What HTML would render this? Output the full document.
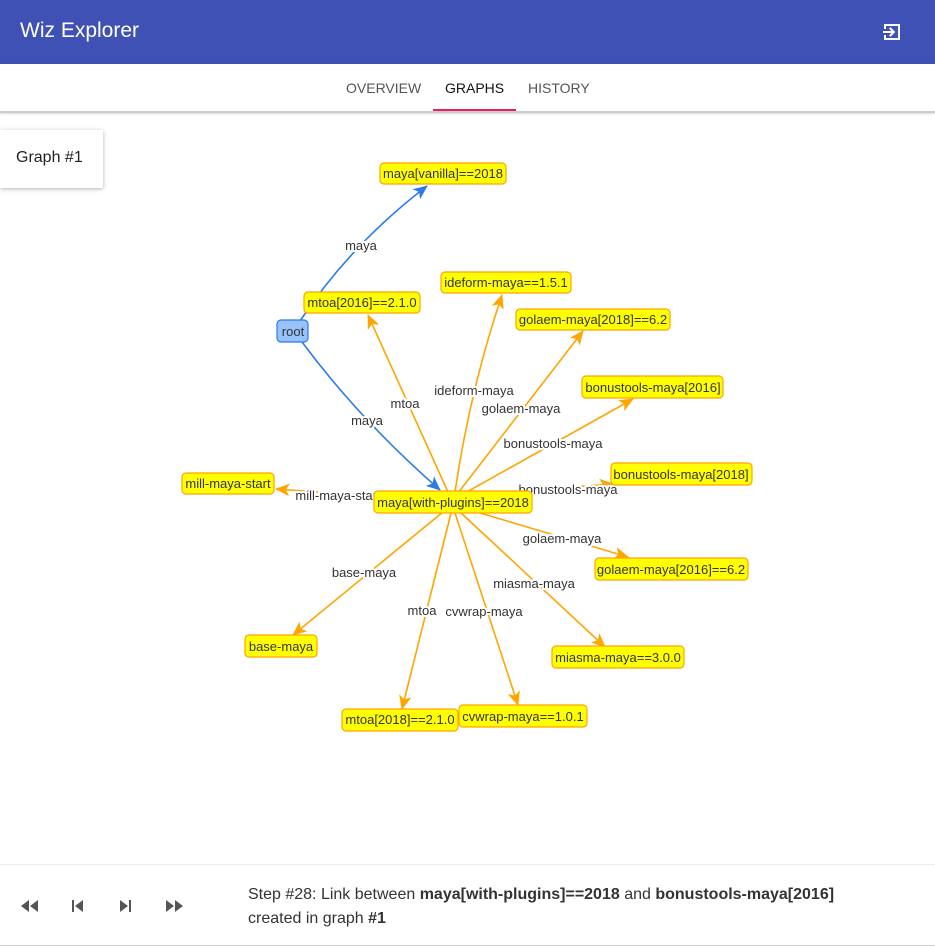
<!DOCTYPE html>
<html><head><meta charset="utf-8"><style>
*{margin:0;padding:0;box-sizing:border-box}
body{width:935px;height:946px;overflow:hidden;background:#fff;font-family:"Liberation Sans",sans-serif;position:relative}
.top{position:absolute;left:0;top:0;width:935px;height:64px;background:#3f51b5;color:#fff}
.top .t{position:absolute;left:20px;top:19px;font-size:21px}
.tabs{position:absolute;top:64px;left:0;width:935px;height:49px;border-bottom:2px solid #ccc;box-shadow:0 1px 2px rgba(0,0,0,.15)}
.tab{position:absolute;top:16px;font-size:14px;color:#555}
.ind{position:absolute;left:433px;top:45px;width:83px;height:2px;background:#e91e63}
.card{position:absolute;left:0;top:130px;width:103px;height:58px;background:#fff;box-shadow:0 1px 4px rgba(0,0,0,.3);font-size:16px;color:#222;padding:19px 0 0 16px}
.foot{position:absolute;top:864px;left:0;width:935px;height:82px;border-top:1px solid #eee;border-bottom:1px solid #ccc}
.msg{position:absolute;left:248px;top:18px;font-size:16px;line-height:24px;color:#333}
svg text{font-family:"Liberation Sans",sans-serif}
.lbl text{paint-order:stroke;stroke:#fff;stroke-width:4px}
</style></head><body>
<div class="top"><div class="t">Wiz Explorer</div>
<svg style="position:absolute;left:880px;top:20px" width="24" height="24" viewBox="0 0 24 24"><path d="M4 4h16v16H4v-5h2v3h12V6H6v3H4z M3 11h8.5l-2.5-2.5 1.4-1.4 4.9 4.9-4.9 4.9-1.4-1.4 2.5-2.5H3z" fill="#fff"/></svg></div>
<div class="tabs"><span class="tab" style="left:346px">OVERVIEW</span><span class="tab" style="left:445px;color:#111">GRAPHS</span><span class="tab" style="left:528px">HISTORY</span><div class="ind"></div></div>
<div class="card">Graph #1</div>
<svg style="position:absolute;left:0;top:0" width="935" height="860">
<defs>
<marker id="o" viewBox="0 0 10 10" refX="9" refY="5" markerWidth="9" markerHeight="9" orient="auto" markerUnits="userSpaceOnUse" style="overflow:visible"><path d="M-6 -2L10 5L-6 12L-2 5z" fill="#ffa500"/></marker>
<marker id="b" viewBox="0 0 10 10" refX="9" refY="5" markerWidth="9" markerHeight="9" orient="auto" markerUnits="userSpaceOnUse" style="overflow:visible"><path d="M-6 -2L10 5L-6 12L-2 5z" fill="#2b7ce9"/></marker>
</defs>
<g fill="none" stroke-width="1.6">
<path d="M300 321 Q350 245 427 186" stroke="#2b7ce9" marker-end="url(#b)"/>
<path d="M302 342 Q360 420 440 490" stroke="#2b7ce9" marker-end="url(#b)"/>
<g stroke="#ffa500" marker-end="url(#o)">
<path d="M448 492 L368 315"/>
<path d="M455 492 Q470 390 502 295"/>
<path d="M458 493 L583 331"/>
<path d="M465 493 L633 399"/>
<path d="M530 490 L613 484"/>
<path d="M375 496 L276 489"/>
<path d="M470 510 L628 557"/>
<path d="M460 512 L605 647"/>
<path d="M455 513 L518 705"/>
<path d="M451 513 L402 709"/>
<path d="M443 512 L293 635"/>
</g></g>
<g class="lbl" font-size="13" fill="#333" text-anchor="middle">
<text x="361" y="250">maya</text>
<text x="367" y="425">maya</text>
<text x="405" y="408">mtoa</text>
<text x="474" y="395">ideform-maya</text>
<text x="521" y="413">golaem-maya</text>
<text x="553" y="448">bonustools-maya</text>
<text x="568" y="494">bonustools-maya</text>
<text x="338" y="500">mill-maya-start</text>
<text x="562" y="543">golaem-maya</text>
<text x="364" y="577">base-maya</text>
<text x="534" y="588">miasma-maya</text>
<text x="422" y="615">mtoa</text>
<text x="484" y="616">cvwrap-maya</text>
</g>
<g font-size="13" fill="#333" text-anchor="middle" stroke-width="1.2">
<g><rect x="380" y="163" width="126" height="21" rx="4" fill="#ffff00" stroke="#ffa500"/><text x="443" y="178">maya[vanilla]==2018</text></g>
<g><rect x="441" y="272" width="130" height="21" rx="4" fill="#ffff00" stroke="#ffa500"/><text x="506" y="287">ideform-maya==1.5.1</text></g>
<g><rect x="304" y="292" width="116" height="21" rx="4" fill="#ffff00" stroke="#ffa500"/><text x="362" y="307">mtoa[2016]==2.1.0</text></g>
<g><rect x="516" y="309" width="154" height="21" rx="4" fill="#ffff00" stroke="#ffa500"/><text x="593" y="324">golaem-maya[2018]==6.2</text></g>
<g><rect x="277" y="320" width="31" height="22" rx="4" fill="#97c2fc" stroke="#2b7ce9"/><text x="293" y="336">root</text></g>
<g><rect x="582" y="376" width="141" height="22" rx="4" fill="#ffff00" stroke="#ffa500"/><text x="653" y="392">bonustools-maya[2016]</text></g>
<g><rect x="611" y="463" width="141" height="22" rx="4" fill="#ffff00" stroke="#ffa500"/><text x="681" y="479">bonustools-maya[2018]</text></g>
<g><rect x="182" y="473" width="92" height="21" rx="4" fill="#ffff00" stroke="#ffa500"/><text x="228" y="488">mill-maya-start</text></g>
<g><rect x="374" y="491" width="158" height="22" rx="4" fill="#ffff00" stroke="#ffa500"/><text x="453" y="507">maya[with-plugins]==2018</text></g>
<g><rect x="595" y="558" width="153" height="22" rx="4" fill="#ffff00" stroke="#ffa500"/><text x="671" y="574">golaem-maya[2016]==6.2</text></g>
<g><rect x="245" y="635" width="72" height="22" rx="4" fill="#ffff00" stroke="#ffa500"/><text x="281" y="651">base-maya</text></g>
<g><rect x="552" y="646" width="132" height="22" rx="4" fill="#ffff00" stroke="#ffa500"/><text x="618" y="662">miasma-maya==3.0.0</text></g>
<g><rect x="459" y="705" width="128" height="22" rx="4" fill="#ffff00" stroke="#ffa500"/><text x="523" y="721">cvwrap-maya==1.0.1</text></g>
<g><rect x="342" y="709" width="116" height="22" rx="4" fill="#ffff00" stroke="#ffa500"/><text x="400" y="724">mtoa[2018]==2.1.0</text></g>
</g>
</svg>
<div class="foot">
<svg style="position:absolute;left:18px;top:33px" width="170" height="16" viewBox="0 0 170 16" fill="#555">
<path d="M11 2L3 8L11 14z M20 2L12 8L20 14z"/>
<path d="M54 2h2v12h-2z M65 2L57 8L65 14z"/>
<path d="M102 2L110 8L102 14z M111 2h2v12h-2z"/>
<path d="M148 2L156 8L148 14z M157 2L165 8L157 14z"/>
</svg>
<div class="msg">Step #28: Link between <b>maya[with-plugins]==2018</b> and <b>bonustools-maya[2016]</b><br>created in graph <b>#1</b></div>
</div>
</body></html>
